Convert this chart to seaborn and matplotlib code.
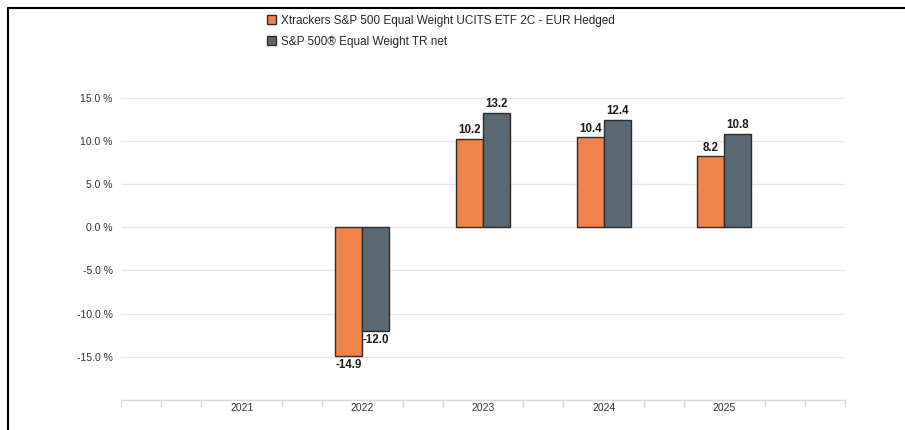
import seaborn as sns
import matplotlib.pyplot as plt
import pandas as pd
import numpy as np
from matplotlib.lines import Line2D

years = ['2021', '2022', '2023', '2024', '2025']
fund_name = 'Xtrackers S&P 500 Equal Weight UCITS ETF 2C - EUR Hedged'
index_name = 'S&P 500® Equal Weight TR net'
data_years = ['2022', '2023', '2024', '2025']
fund_values = [-14.9, 10.2, 10.4, 8.2]
index_values = [-12.0, 13.2, 12.4, 10.8]
y_ticks = [-15, -10, -5, 0, 5, 10, 15]

df = pd.DataFrame({
    'year': data_years * 2,
    'value': fund_values + index_values,
    'series': [fund_name] * 4 + [index_name] * 4,
})

sns.set_style('white')
plt.rcParams['font.family'] = ['Liberation Sans', 'DejaVu Sans']

fig = plt.figure(figsize=(9.05, 4.3), dpi=100)
ax = fig.add_axes([121/905, 30/430, 724/905, 345.6/430])

sns.barplot(data=df, x='year', y='value', hue='series', order=years,
            palette=['#F0834A', '#596873'], saturation=1, width=0.45,
            edgecolor='#2b2b2b', linewidth=1, ax=ax, legend=True)

for c in ax.containers:
    ax.bar_label(c, fmt='%.1f', padding=2, fontsize=8.3, color='#1a1a1a',
                 fontweight='bold')

ax.set_xlim(-1, 5)
ax.set_ylim(-20, 20)
ax.set_yticks(y_ticks)
ax.set_yticklabels([f'{v:.1f} %' for v in y_ticks], fontsize=7.5, color='#333333')
ax.set_xticks(range(len(years)))
ax.set_xticklabels(years, fontsize=7.5, color='#333333')
minor = [k / 3 for k in range(-3, 16) if k % 3 != 0] + [-1, 5]
ax.set_xticks(minor, minor=True)
ax.tick_params(axis='x', which='major', bottom=True, length=0, pad=2)
ax.tick_params(axis='x', which='minor', bottom=True, length=5, color='#d9d9d9', width=1)
ax.tick_params(axis='y', length=0, pad=6)
ax.grid(axis='y', color='#e6e6e6', linewidth=1)
ax.set_axisbelow(True)
ax.set_xlabel('')
ax.set_ylabel('')
for s in ['top', 'right', 'left']:
    ax.spines[s].set_visible(False)
ax.spines['bottom'].set_color('#d9d9d9')
ax.spines['bottom'].set_linewidth(1)

handles, labels = ax.get_legend_handles_labels()
ax.get_legend().remove()
fig.legend(handles, labels, loc='upper left', bbox_to_anchor=(262/905, 1 - 10/430),
           frameon=False, fontsize=8.5, handlelength=0.75, handleheight=0.75,
           handletextpad=0.5, labelspacing=0.75, borderaxespad=0)

# outer frame
fig.add_artist(Line2D([8/905, 8/905], [0, 1 - 8/430], color='black', linewidth=1.5,
                      transform=fig.transFigure))
fig.add_artist(Line2D([8/905, 1], [1 - 8/430, 1 - 8/430], color='black', linewidth=1.5,
                      transform=fig.transFigure))

fig.savefig('out.png', dpi=100)
